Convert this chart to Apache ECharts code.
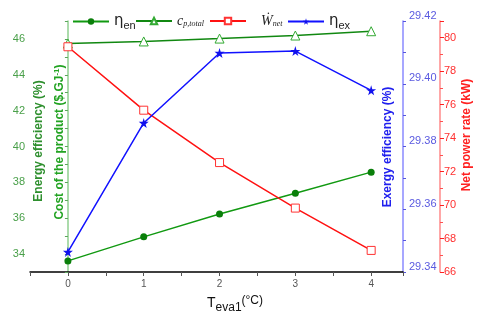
<!DOCTYPE html>
<html><head><meta charset="utf-8">
<script src="https://cdn.jsdelivr.net/npm/echarts@6/dist/echarts.min.js"></script>
<style>html,body{margin:0;padding:0;background:#fff}#c{width:480px;height:318px}</style>
</head><body><div id="c"></div>
<script>
// ---- data ----
const teva = [0, 1, 2, 3, 4];
const etaEn = [33.62, 34.96, 36.23, 37.39, 38.57];
const cpTotal = [45.74, 45.86, 46.02, 46.19, 46.43];
const wNet = [79.46, 75.67, 72.54, 69.82, 67.29];
const etaEx = [29.3464, 29.3875, 29.4098, 29.4104, 29.3979];

const pairs = (ys) => teva.map((x, i) => [x, ys[i]]);
const STAR = 'path://M50,0 L61,35 L98,35 L68,57 L79,91 L50,70 L21,91 L32,57 L2,35 L39,35 Z';

const chart = echarts.init(document.getElementById('c'), null, {renderer: 'canvas'});

const legendRich = {
  g: {fontFamily: 'DejaVu Sans', fontSize: 15, color: '#222'},
  gs: {fontFamily: 'Liberation Sans', fontSize: 11, color: '#222', padding: [8, 0, 0, 0]},
  it: {fontFamily: 'Liberation Serif, DejaVu Serif', fontStyle: 'italic', fontSize: 14, color: '#222'},
  its: {fontFamily: 'Liberation Serif', fontStyle: 'italic', fontSize: 8, color: '#222', padding: [6, 0, 0, 0]}
};
const legendText = {
  en: '{g|η}{gs|en}',
  cp: '{it|c}{its|p,total}',
  wn: '   {it|Ẇ}{its|net}',
  ex: '{g|η}{gs|ex}'
};
function mkLegend(name, left) {
  return {
    data: [name], left: left, top: 9, itemWidth: 36, itemHeight: 8, itemGap: 4,
    formatter: n => legendText[n], textStyle: {rich: legendRich}, selectedMode: false
  };
}

const option = {
  animation: false,
  backgroundColor: '#fff',
  grid: {left: 30, right: 77, top: 21, bottom: 46, containLabel: false},
  legend: [mkLegend('en', 67), mkLegend('cp', 130), mkLegend('wn', 204), mkLegend('ex', 282)],
  xAxis: {
    type: 'value', min: -0.5, max: 4.42, interval: 0.5,
    axisLine: {lineStyle: {color: '#000', width: 1.5}},
    axisTick: {length: 4, lineStyle: {color: '#555'}},
    axisLabel: {color: '#555', fontSize: 10, fontFamily: 'Liberation Sans', margin: 7,
      formatter: v => (Math.abs(v - Math.round(v)) < 1e-6 && v >= 0 && v <= 4) ? String(Math.round(v)) : ''},
    splitLine: {show: false}
  },
  yAxis: [
    {
      type: 'value', position: 'left', min: 33, max: 47, interval: 1,
      axisLine: {show: true, lineStyle: {color: '#8fcf8f', width: 1.5}},
      axisTick: {show: true, length: 3, lineStyle: {color: '#5aa55a'}},
      axisLabel: {color: '#4aa04a', fontSize: 11, fontFamily: 'Liberation Sans', margin: 5,
        formatter: v => (v % 2 === 0 ? String(v) : '')},
      splitLine: {show: false}
    },
    {
      type: 'value', position: 'right', min: 29.34, max: 29.42, interval: 0.02,
      axisLine: {show: true, lineStyle: {color: '#8a8aff', width: 1.5}},
      axisTick: {show: true, length: 3, lineStyle: {color: '#5555dd'}},
      minorTick: {show: true, splitNumber: 2, length: 3, lineStyle: {color: '#5555dd'}},
      axisLabel: {color: '#5a5ae0', fontSize: 11, fontFamily: 'Liberation Sans', margin: 6, verticalAlign: 'bottom',
        formatter: v => v.toFixed(2)},
      splitLine: {show: false}
    },
    {
      type: 'value', position: 'right', offset: 37, min: 66, max: 81, interval: 2,
      axisLine: {show: true, lineStyle: {color: '#ff8a8a', width: 1.5}},
      axisTick: {show: true, length: 4, lineStyle: {color: '#ff2020'}},
      minorTick: {show: true, splitNumber: 2, length: 3, lineStyle: {color: '#ff5050'}},
      axisLabel: {color: '#ff3030', fontSize: 11, fontFamily: 'Liberation Sans', margin: 4,
        formatter: v => (v <= 80 ? String(v) : '')},
      splitLine: {show: false}
    }
  ],
  series: [
    {
      name: 'en', type: 'line', yAxisIndex: 0, data: pairs(etaEn),
      symbol: 'circle', symbolSize: 7,
      lineStyle: {color: '#119911', width: 1.5}, itemStyle: {color: '#0a7f0a', borderWidth: 0}
    },
    {
      name: 'cp', type: 'line', yAxisIndex: 0, data: pairs(cpTotal),
      symbol: 'triangle', symbolSize: 9,
      lineStyle: {color: '#118811', width: 1.5}, itemStyle: {color: '#fff', borderColor: '#33aa33', borderWidth: 1}
    },
    {
      name: 'wn', type: 'line', yAxisIndex: 2, data: pairs(wNet),
      symbol: 'rect', symbolSize: 8,
      lineStyle: {color: '#ff1111', width: 1.5}, itemStyle: {color: '#fff', borderColor: '#ff3333', borderWidth: 1}
    },
    {
      name: 'ex', type: 'line', yAxisIndex: 1, data: pairs(etaEx),
      symbol: STAR, symbolSize: 10,
      lineStyle: {color: '#1111ff', width: 1.5}, itemStyle: {color: '#1111ee', borderWidth: 0}
    }
  ],
  graphic: [
    {type: 'text', x: 39, y: 141, rotation: Math.PI / 2,
      style: {text: 'Energy efficiency (%)', fill: '#2e8f2e', font: 'bold 12px "Liberation Sans"', align: 'center', verticalAlign: 'middle'}},
    {type: 'text', x: 60, y: 142, rotation: Math.PI / 2,
      style: {text: '{a|Cost of the product ($.GJ}{s|-1}{a|)}', align: 'center', verticalAlign: 'middle',
        rich: {a: {fill: '#22a322', fontWeight: 'bold', fontSize: 12, fontFamily: 'Liberation Sans'},
               s: {fill: '#22a322', fontWeight: 'bold', fontSize: 8, fontFamily: 'Liberation Sans', padding: [0, 0, 7, 0]}}}},
    {type: 'text', x: 388, y: 147, rotation: Math.PI / 2,
      style: {text: 'Exergy efficiency (%)', fill: '#2020ee', font: 'bold 12px "Liberation Sans"', align: 'center', verticalAlign: 'middle'}},
    {type: 'text', x: 467, y: 135, rotation: Math.PI / 2,
      style: {text: 'Net power rate (kW)', fill: '#ff2020', font: 'bold 12px "Liberation Sans"', align: 'center', verticalAlign: 'middle'}},
    {type: 'text', x: 235, y: 303,
      style: {text: '{t|T}{s|eva1}{p|(°C)}', align: 'center', verticalAlign: 'middle',
        rich: {t: {fontSize: 14, fontFamily: 'Liberation Sans', fill: '#111'},
               s: {fontSize: 12, fontFamily: 'Liberation Sans', fill: '#111', padding: [9, 0, 0, 0]},
               p: {fontSize: 12, fontFamily: 'Liberation Sans', fill: '#111', padding: [0, 0, 5, 0]}}}}
  ]
};
chart.setOption(option);
</script>
</body></html>
